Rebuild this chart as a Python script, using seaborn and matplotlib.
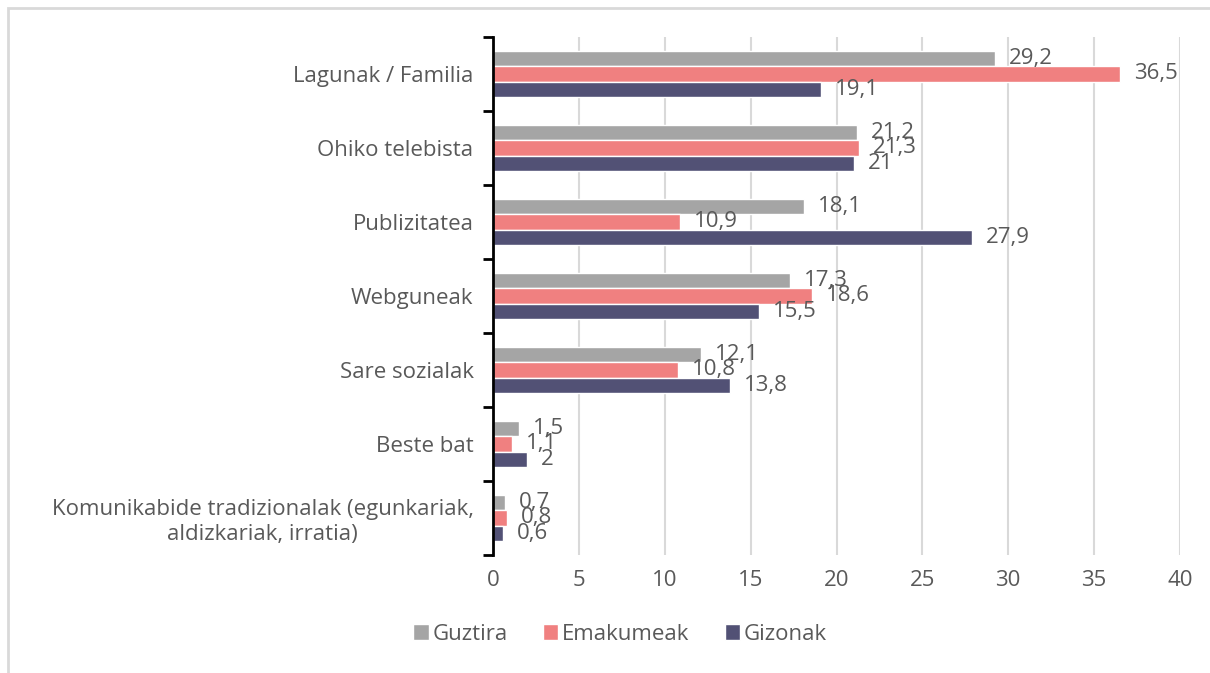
import numpy as np
import pandas as pd
import matplotlib
matplotlib.use("Agg")
import matplotlib.pyplot as plt
from matplotlib.patches import Rectangle
import seaborn as sns

# data
categories = [
    "Lagunak / Familia",
    "Ohiko telebista",
    "Publizitatea",
    "Webguneak",
    "Sare sozialak",
    "Beste bat",
    "Komunikabide tradizionalak (egunkariak,\naldizkariak, irratia)",
]
series_names = ["Guztira", "Emakumeak", "Gizonak"]
guztira = [29.2, 21.2, 18.1, 17.3, 12.1, 1.5, 0.7]
emakumeak = [36.5, 21.3, 10.9, 18.6, 10.8, 1.1, 0.8]
gizonak = [19.1, 21.0, 27.9, 15.5, 13.8, 2.0, 0.6]
x_ticks = [0, 5, 10, 15, 20, 25, 30, 35, 40]

colors = ["#A5A5A5", "#F08080", "#525175"]
text_color = "#595959"

df = pd.DataFrame({
    "category": categories * 3,
    "series": np.repeat(series_names, len(categories)),
    "value": guztira + emakumeak + gizonak,
})

sns.set_theme(style="white")
plt.rcParams["font.family"] = ["Open Sans", "DejaVu Sans"]
fs = 16

fig = plt.figure(figsize=(12.1, 6.73), dpi=100)
ax = fig.add_axes([493 / 1210, 1 - 555 / 673, 687 / 1210, 518 / 673])

sns.barplot(data=df, x="value", y="category", hue="series",
            order=categories, hue_order=series_names,
            palette=colors, width=0.62, orient="h", ax=ax,
            saturation=1, errorbar=None)

# value labels with decimal comma
for cont, vals in zip(ax.containers, [guztira, emakumeak, gizonak]):
    labs = [f"{v:g}".replace(".", ",") for v in vals]
    ax.bar_label(cont, labels=labs, padding=10, fontsize=fs, color=text_color)

ax.set_xlim(0, 40)
ax.set_ylim(len(categories) - 0.5, -0.5)
ax.set_xticks(x_ticks)
ax.tick_params(axis="x", length=0, pad=11, labelsize=fs, labelcolor=text_color)
ax.xaxis.grid(True, color="#D9D9D9", linewidth=1.5)
ax.set_axisbelow(True)

# tick marks at category boundaries, labels at centers
ax.set_yticks(np.arange(-0.5, len(categories), 1.0))
ax.set_yticklabels([])
ax.set_yticks(np.arange(len(categories)), labels=categories, minor=True)
ax.tick_params(axis="y", which="major", length=7, width=2, color="black", direction="out", left=True)
ax.tick_params(axis="y", which="minor", length=0, pad=14, labelsize=fs, labelcolor=text_color)
for lab in ax.get_yticklabels(minor=True):
    lab.set_multialignment("center")

ax.set_xlabel("")
ax.set_ylabel("")
for side in ["top", "right", "bottom"]:
    ax.spines[side].set_visible(False)
ax.spines["left"].set_color("black")
ax.spines["left"].set_linewidth(2)

handles, labels = ax.get_legend_handles_labels()
ax.get_legend().remove()
fig.legend(handles, labels, loc="center", bbox_to_anchor=(620 / 1210, 1 - 634 / 673),
           ncol=3, frameon=False, fontsize=fs, labelcolor=text_color,
           handlelength=0.7, handleheight=0.7, handletextpad=0.15, columnspacing=1.6)

# light outer border (only top and left edges visible)
fig.patches.append(Rectangle((8 / 1210, -0.1), 1.2, 1.1 - 8 / 673,
                             transform=fig.transFigure, fill=False,
                             edgecolor="#D9D9D9", linewidth=2))

fig.savefig("out.png", dpi=100)
